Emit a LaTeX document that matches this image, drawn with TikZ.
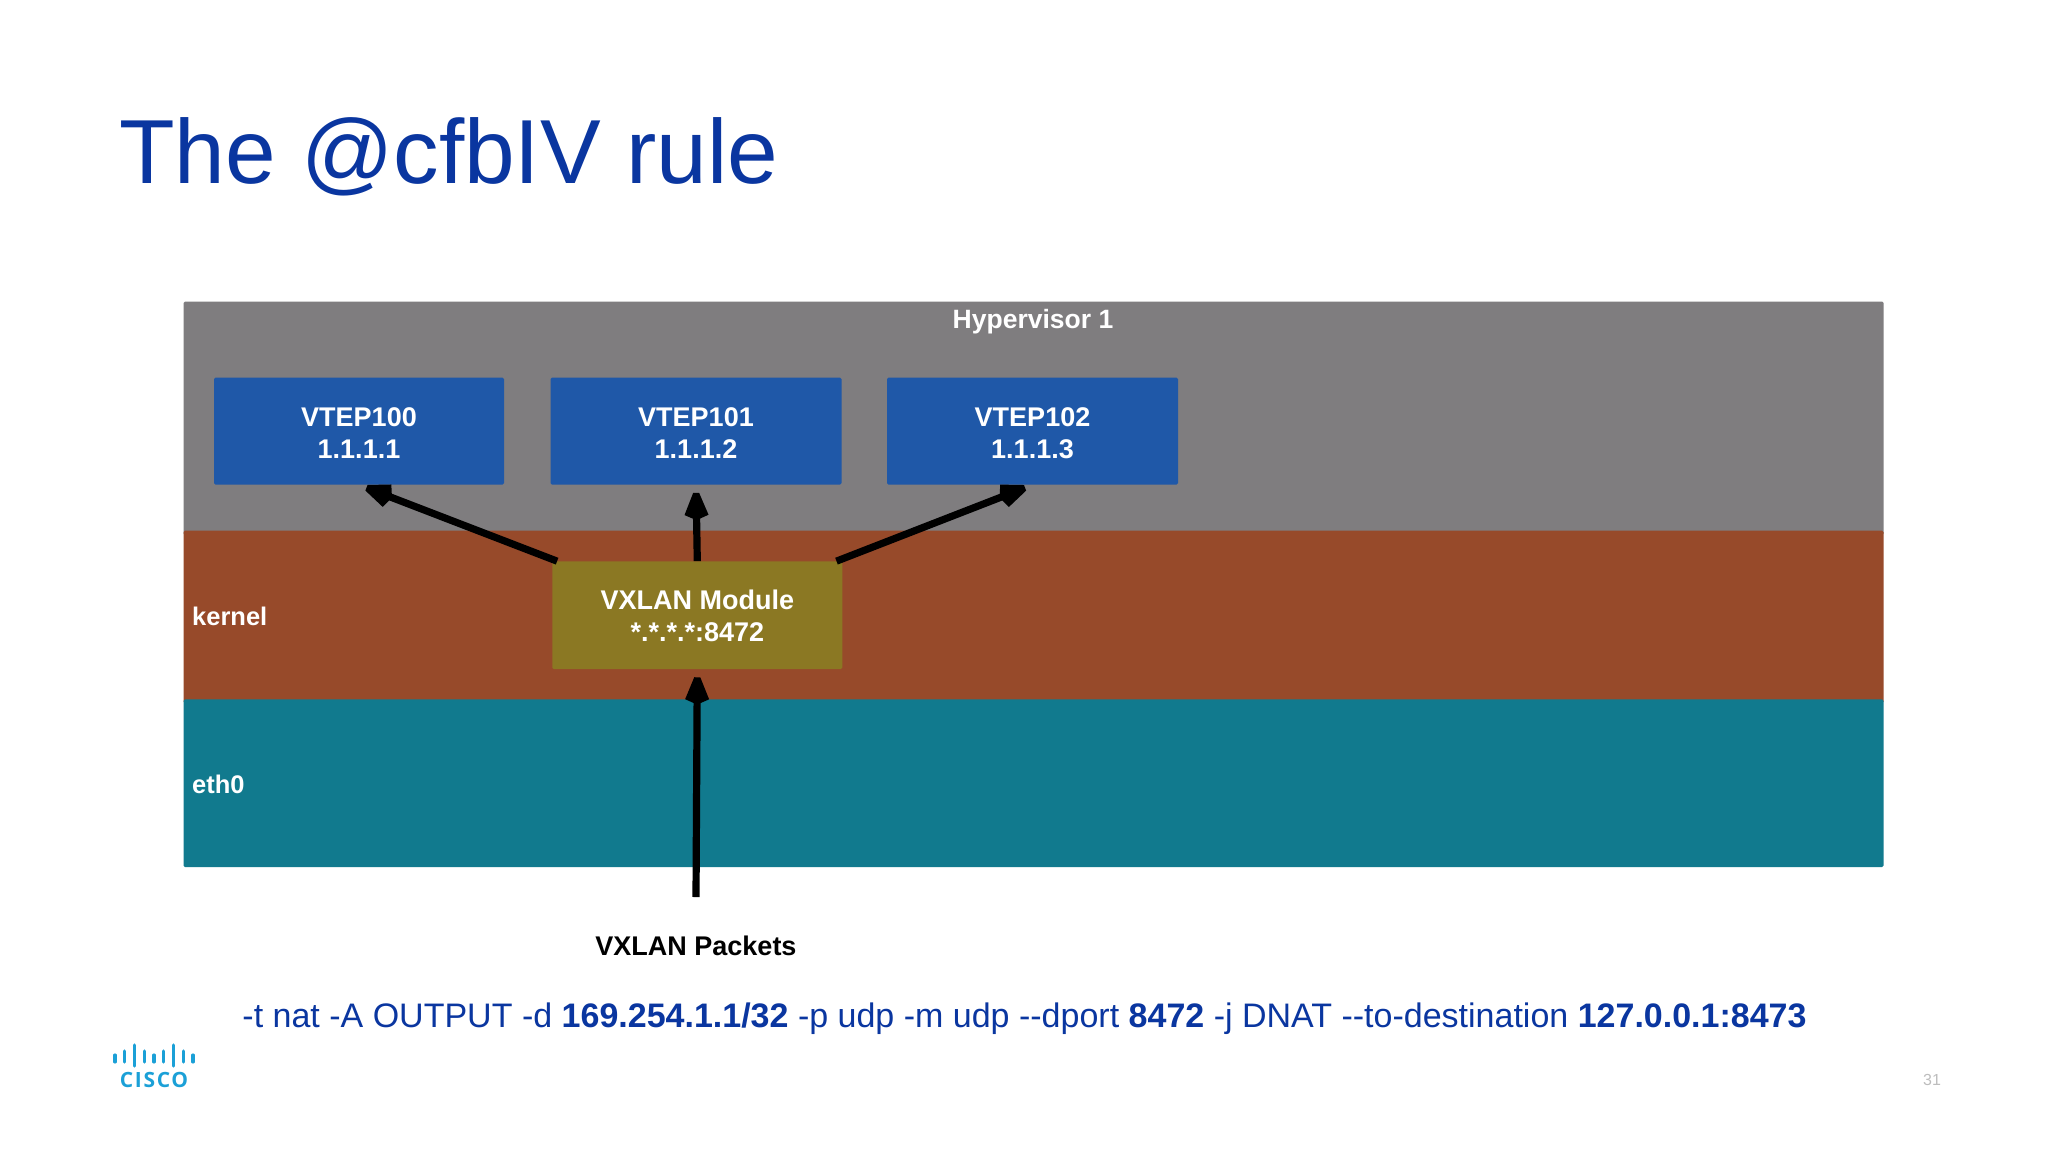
\documentclass[tikz,border=0pt]{standalone}
\usepackage{fontspec}
\setmainfont{Liberation Sans}
\newfontfamily\ciscofont[LetterSpace=8]{Open Sans}
\usetikzlibrary{arrows.meta,calc}
\definecolor{titleblue}{HTML}{0A36A0}
\definecolor{hypgray}{HTML}{7F7D7F}
\definecolor{kernelbrown}{HTML}{974A2A}
\definecolor{ethteal}{HTML}{117A8E}
\definecolor{vtepblue}{HTML}{1F58A8}
\definecolor{vxolive}{HTML}{8B7823}
\definecolor{ciscoblue}{HTML}{1BA0D7}
\definecolor{pagegray}{HTML}{BDBDBD}
\pgfdeclarearrow{
  name=FlatKite,
  setup code={\pgfarrowssettipend{0pt}\pgfarrowssetlineend{-22pt}\pgfarrowssetvisualbackend{-26pt}\pgfarrowssetbackend{-26pt}},
  drawing code={
    \pgfsetdash{}{0pt}
    \pgfpathmoveto{\pgfqpoint{0pt}{3pt}}
    \pgfpathlineto{\pgfqpoint{-22pt}{12pt}}
    \pgfpathlineto{\pgfqpoint{-26pt}{3pt}}
    \pgfpathlineto{\pgfqpoint{-26pt}{-3pt}}
    \pgfpathlineto{\pgfqpoint{-22pt}{-12pt}}
    \pgfpathlineto{\pgfqpoint{0pt}{-3pt}}
    \pgfpathclose
    \pgfusepathqfill
  }
}
\tikzset{
  layer/.style={fill=#1,draw=none,rounded corners=1.5pt},
  box/.style={rectangle,fill=#1,draw=none,rounded corners=1.5pt,inner sep=0pt,text=white,align=center,
    font=\fontsize{27}{32}\selectfont\bfseries},
  lab/.style={inner sep=0pt,text=white,font=\fontsize{26.5}{32}\selectfont\bfseries},
  arr/.style={line width=7.2pt,-FlatKite,shorten >=8pt},
  bar/.style={line width=3.1pt,ciscoblue,line cap=round},
}
\newcommand{\vtepdrop}{\rule{0pt}{22.5pt}}
\newcommand{\vxdrop}{\rule{0pt}{21.5pt}}
\begin{document}
\begin{tikzpicture}[x=1pt,y=-1pt]
\useasboundingbox (0,0) rectangle (2048,1152);
\fill[white] (0,0) rectangle (2048,1152);
\node[anchor=base west,inner sep=0pt,text=titleblue,font=\fontsize{91}{100}\selectfont] (title) at (119,183) {The @cfbIV rule};
% layers
\fill[layer=hypgray] (183.5,301.5) rectangle (1883.5,535);
\fill[layer=kernelbrown] (183.5,530.7) rectangle (1883.5,703);
\fill[layer=ethteal] (183.5,699.3) rectangle (1883.5,867);
\node[lab,anchor=base] (hyp) at (1033,328) {Hypervisor 1};
\node[lab,anchor=base west,font=\fontsize{25.5}{32}\selectfont\bfseries] (kern) at (192,625) {kernel};
\node[lab,anchor=base west,font=\fontsize{25.5}{32}\selectfont\bfseries] (eth) at (192,793) {eth0};
\coordinate (src) at (696,897);
\node[box=vxolive,minimum width=290pt,minimum height=107.7pt] (vx) at (697.3,615.2) {\vxdrop VXLAN Module\\*.*.*.*:8472};
\node[box=vtepblue,minimum width=290pt,minimum height=107pt] (v100) at (359,431.2) {\vtepdrop VTEP100\\1.1.1.1};
\node[box=vtepblue,minimum width=291pt,minimum height=107pt] (v101) at (696,431.2) {\vtepdrop VTEP101\\1.1.1.2};
\node[box=vtepblue,minimum width=291pt,minimum height=107pt] (v102) at (1032.5,431.2) {\vtepdrop VTEP102\\1.1.1.3};
\draw[arr] ($(vx.north west)+(5,0)$) -- (v100.south);
\draw[arr] (vx.north) -- (v101.south);
\draw[arr] ($(vx.north east)+(-6,0)$) -- (v102.south);
\draw[arr] (src) -- (vx.south);
\node[anchor=base,inner sep=0pt,font=\fontsize{27}{32}\selectfont\bfseries] (pk) at (696,955) {VXLAN Packets};
\node[anchor=base,inner sep=0pt,text=titleblue,font=\fontsize{34}{40}\selectfont] (cmd) at (1024.5,1027.5) {-t nat -A OUTPUT -d \textbf{169.254.1.1/32} -p udp -m udp -{}-dport \textbf{8472} -j DNAT -{}-to-destination \textbf{127.0.0.1:8473}};
% cisco logo
\foreach \x/\a/\b in {115/1055/1062,124.3/1051/1062,134.3/1045/1066,144.3/1051/1062,154/1055/1062,163.7/1051/1062,173.7/1045/1066,183.3/1051/1062,193/1055/1062}
  \draw[bar] (\x,\a) -- (\x,\b);
\node[anchor=base,inner sep=0pt,text=ciscoblue,font=\ciscofont\fontsize{21}{22}\selectfont\bfseries] (cisco) at (154,1087) {CISCO};
\node[anchor=base,inner sep=0pt,text=pagegray,font=\fontsize{16}{18}\selectfont] (page) at (1932,1085) {31};
\end{tikzpicture}
\end{document}
